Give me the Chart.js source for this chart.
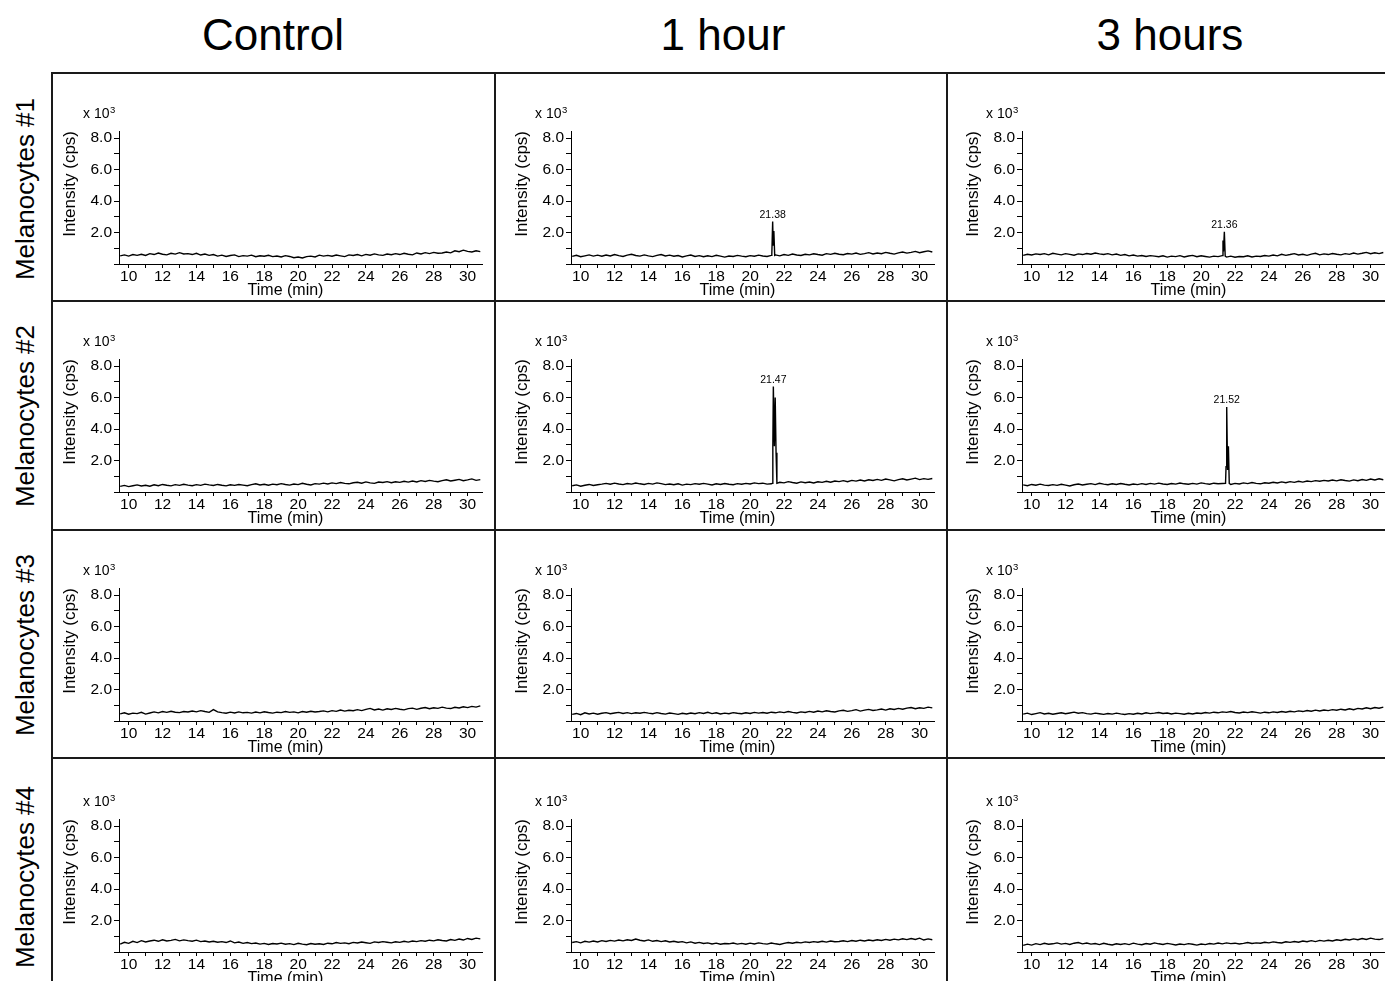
<!DOCTYPE html>
<html>
<head>
<meta charset="utf-8">
<title>Melanocytes chromatograms</title>
<script src="https://cdn.jsdelivr.net/npm/chart.js@4.4.0/dist/chart.umd.min.js"></script>
<style>
  body { margin: 0; background: #fff; overflow: hidden; font-family: 'Liberation Sans', Arial, sans-serif; }
  #page { position: relative; width: 1385px; height: 981px; overflow: hidden; background: #fff; }
  .colTitle { position: absolute; top: 13px; width: 300px; margin-left: -150px; text-align: center; font-size: 44px; line-height: 44px; color: #000; }
  .rowTitle { position: absolute; width: 300px; height: 30px; line-height: 30px; font-size: 26px; text-align: center; color: #000; transform: rotate(-90deg); }
  .line { position: absolute; background: #1a1a1a; }
  canvas { position: absolute; }
</style>
</head>
<body>
<div id="page"></div>
<script>
const columns = ['Control', '1 hour', '3 hours'];
const rowNames = ['Melanocytes #1', 'Melanocytes #2', 'Melanocytes #3', 'Melanocytes #4'];
const xTicks = [10, 12, 14, 16, 18, 20, 22, 24, 26, 28, 30];
const yTicks = [2, 4, 6, 8];

// retention time (min) of each baseline sample
const times = [
  9.5, 9.75, 10, 10.25, 10.5, 10.75, 11, 11.25,
  11.5, 11.75, 12, 12.25, 12.5, 12.75, 13, 13.25,
  13.5, 13.75, 14, 14.25, 14.5, 14.75, 15, 15.25,
  15.5, 15.75, 16, 16.25, 16.5, 16.75, 17, 17.25,
  17.5, 17.75, 18, 18.25, 18.5, 18.75, 19, 19.25,
  19.5, 19.75, 20, 20.25, 20.5, 20.75, 21, 21.25,
  21.5, 21.75, 22, 22.25, 22.5, 22.75, 23, 23.25,
  23.5, 23.75, 24, 24.25, 24.5, 24.75, 25, 25.25,
  25.5, 25.75, 26, 26.25, 26.5, 26.75, 27, 27.25,
  27.5, 27.75, 28, 28.25, 28.5, 28.75, 29, 29.25,
  29.5, 29.75, 30, 30.25, 30.5, 30.75
];

// intensity x 10^3 cps
const control_1 = [
  0.52,0.58,0.50,0.60,0.55,0.62,0.54,0.66, 0.60,0.70,0.62,0.58,0.68,0.63,0.72,0.64,
  0.66,0.60,0.68,0.57,0.63,0.55,0.60,0.50, 0.56,0.48,0.54,0.58,0.47,0.53,0.50,0.56,
  0.46,0.52,0.49,0.55,0.47,0.51,0.45,0.53, 0.48,0.40,0.44,0.38,0.47,0.50,0.45,0.56,
  0.50,0.55,0.49,0.57,0.52,0.47,0.58,0.54, 0.60,0.52,0.61,0.56,0.64,0.58,0.55,0.63,
  0.59,0.66,0.60,0.68,0.62,0.58,0.70,0.64, 0.72,0.66,0.74,0.68,0.70,0.76,0.71,0.84,
  0.78,0.88,0.80,0.76,0.84,0.79
];
const hour1_1 = [
  0.48,0.55,0.46,0.52,0.58,0.50,0.56,0.49, 0.57,0.51,0.60,0.53,0.48,0.56,0.62,0.54,
  0.50,0.58,0.52,0.47,0.55,0.60,0.51,0.56, 0.49,0.54,0.45,0.52,0.57,0.48,0.53,0.46,
  0.52,0.47,0.55,0.50,0.44,0.51,0.48,0.55, 0.50,0.46,0.53,0.49,0.56,0.51,0.48,0.55,
  0.58,0.52,0.60,0.55,0.63,0.57,0.54,0.62, 0.58,0.65,0.60,0.56,0.66,0.61,0.68,0.62,
  0.59,0.67,0.63,0.70,0.61,0.66,0.72,0.64, 0.70,0.65,0.74,0.68,0.63,0.71,0.76,0.69,
  0.74,0.80,0.72,0.78,0.83,0.76
];
const hour3_1 = [
  0.55,0.62,0.57,0.64,0.60,0.66,0.58,0.68, 0.63,0.58,0.66,0.61,0.56,0.64,0.60,0.67,
  0.62,0.70,0.64,0.60,0.66,0.58,0.63,0.55, 0.60,0.52,0.57,0.50,0.54,0.48,0.53,0.50,
  0.46,0.52,0.44,0.50,0.47,0.53,0.45,0.51, 0.55,0.46,0.52,0.48,0.44,0.50,0.47,0.53,
  0.44,0.50,0.43,0.48,0.46,0.52,0.45,0.50, 0.48,0.54,0.50,0.57,0.52,0.62,0.55,0.60,
  0.66,0.57,0.62,0.55,0.63,0.68,0.58,0.64, 0.60,0.67,0.62,0.58,0.66,0.61,0.70,0.63,
  0.68,0.74,0.65,0.71,0.66,0.73
];
const control_2 = [
  0.36,0.42,0.34,0.40,0.45,0.38,0.43,0.37, 0.46,0.40,0.48,0.43,0.39,0.47,0.42,0.49,
  0.44,0.40,0.47,0.42,0.50,0.45,0.41,0.48, 0.43,0.39,0.46,0.42,0.48,0.44,0.40,0.47,
  0.52,0.45,0.49,0.43,0.50,0.46,0.53,0.48, 0.44,0.51,0.47,0.55,0.49,0.45,0.53,0.50,
  0.56,0.51,0.58,0.53,0.60,0.55,0.52,0.59, 0.62,0.56,0.64,0.58,0.55,0.63,0.60,0.66,
  0.59,0.65,0.61,0.68,0.63,0.70,0.64,0.72, 0.67,0.74,0.69,0.65,0.72,0.78,0.70,0.75,
  0.80,0.72,0.77,0.83,0.74,0.79
];
const hour1_2 = [
  0.40,0.45,0.37,0.43,0.48,0.41,0.46,0.50, 0.55,0.49,0.56,0.51,0.47,0.54,0.50,0.57,
  0.52,0.48,0.55,0.50,0.58,0.53,0.47,0.51, 0.46,0.52,0.44,0.50,0.47,0.53,0.49,0.55,
  0.50,0.45,0.52,0.48,0.54,0.49,0.46,0.53, 0.49,0.55,0.51,0.58,0.53,0.56,0.50,0.52,
  0.55,0.62,0.58,0.66,0.60,0.56,0.64,0.59, 0.63,0.57,0.65,0.61,0.68,0.62,0.70,0.66,
  0.72,0.65,0.74,0.69,0.76,0.70,0.78,0.73, 0.80,0.74,0.82,0.77,0.71,0.79,0.84,0.76,
  0.82,0.88,0.79,0.85,0.80,0.86
];
const hour3_2 = [
  0.45,0.40,0.48,0.43,0.50,0.44,0.41,0.47, 0.42,0.49,0.44,0.38,0.46,0.51,0.45,0.49,
  0.53,0.47,0.55,0.50,0.46,0.52,0.48,0.54, 0.49,0.45,0.51,0.47,0.53,0.48,0.55,0.50,
  0.56,0.51,0.48,0.54,0.50,0.57,0.52,0.49, 0.55,0.50,0.58,0.53,0.49,0.56,0.52,0.54,
  0.50,0.48,0.55,0.51,0.58,0.53,0.60,0.55, 0.52,0.59,0.56,0.62,0.57,0.64,0.59,0.66,
  0.61,0.68,0.63,0.70,0.66,0.72,0.68,0.74, 0.70,0.76,0.71,0.78,0.73,0.69,0.77,0.72,
  0.79,0.74,0.82,0.76,0.84,0.78
];
const control_3 = [
  0.45,0.52,0.43,0.50,0.47,0.55,0.44,0.51, 0.58,0.52,0.60,0.55,0.62,0.56,0.53,0.60,
  0.57,0.63,0.58,0.66,0.60,0.55,0.72,0.58, 0.53,0.49,0.56,0.51,0.58,0.52,0.55,0.50,
  0.57,0.52,0.59,0.54,0.50,0.56,0.53,0.60, 0.55,0.58,0.52,0.60,0.56,0.62,0.57,0.60,
  0.64,0.58,0.66,0.61,0.70,0.63,0.68,0.65, 0.72,0.66,0.74,0.80,0.70,0.76,0.69,0.78,
  0.73,0.80,0.75,0.71,0.79,0.82,0.74,0.81, 0.86,0.78,0.84,0.80,0.88,0.82,0.79,0.87,
  0.83,0.90,0.85,0.93,0.88,0.96
];
const hour1_3 = [
  0.42,0.48,0.40,0.52,0.45,0.50,0.43,0.49, 0.53,0.46,0.51,0.55,0.48,0.53,0.47,0.52,
  0.49,0.55,0.50,0.46,0.53,0.48,0.44,0.51, 0.47,0.42,0.49,0.45,0.51,0.46,0.53,0.48,
  0.55,0.47,0.52,0.45,0.50,0.46,0.53,0.49, 0.46,0.52,0.48,0.55,0.50,0.54,0.49,0.56,
  0.52,0.58,0.53,0.60,0.55,0.51,0.58,0.54, 0.61,0.56,0.63,0.58,0.65,0.60,0.57,0.64,
  0.68,0.61,0.66,0.72,0.63,0.69,0.74,0.67, 0.71,0.76,0.69,0.78,0.73,0.80,0.75,0.82,
  0.86,0.78,0.84,0.80,0.88,0.83
];
const hour3_3 = [
  0.44,0.50,0.41,0.47,0.53,0.45,0.49,0.43, 0.48,0.52,0.46,0.51,0.56,0.49,0.53,0.47,
  0.44,0.50,0.46,0.42,0.48,0.44,0.50,0.45, 0.41,0.47,0.43,0.49,0.45,0.52,0.47,0.50,
  0.54,0.48,0.51,0.45,0.50,0.47,0.43,0.49, 0.45,0.51,0.48,0.54,0.50,0.56,0.52,0.58,
  0.55,0.60,0.54,0.51,0.57,0.53,0.59,0.55, 0.50,0.56,0.52,0.58,0.54,0.60,0.56,0.62,
  0.58,0.64,0.60,0.67,0.62,0.69,0.64,0.70, 0.66,0.72,0.68,0.75,0.70,0.78,0.72,0.80,
  0.76,0.84,0.78,0.86,0.81,0.88
];
const control_4 = [
  0.50,0.62,0.55,0.68,0.60,0.72,0.64,0.70, 0.75,0.68,0.78,0.70,0.74,0.80,0.71,0.77,
  0.72,0.68,0.75,0.66,0.70,0.64,0.68,0.62, 0.66,0.60,0.70,0.58,0.63,0.55,0.60,0.53,
  0.57,0.50,0.55,0.48,0.54,0.51,0.56,0.49, 0.53,0.47,0.55,0.50,0.46,0.54,0.49,0.52,
  0.48,0.56,0.52,0.60,0.55,0.58,0.53,0.61, 0.57,0.63,0.59,0.55,0.64,0.60,0.66,0.62,
  0.58,0.65,0.61,0.68,0.63,0.70,0.66,0.72, 0.68,0.75,0.71,0.78,0.73,0.70,0.79,0.74,
  0.82,0.76,0.86,0.80,0.88,0.83
];
const hour1_4 = [
  0.60,0.66,0.58,0.68,0.63,0.70,0.64,0.72, 0.67,0.74,0.69,0.76,0.71,0.78,0.73,0.82,
  0.75,0.70,0.77,0.68,0.73,0.66,0.71,0.64, 0.68,0.62,0.66,0.58,0.64,0.56,0.61,0.54,
  0.58,0.51,0.56,0.49,0.54,0.52,0.57,0.50, 0.55,0.49,0.56,0.51,0.58,0.53,0.50,0.57,
  0.52,0.48,0.55,0.60,0.56,0.62,0.58,0.64, 0.60,0.66,0.62,0.68,0.63,0.70,0.65,0.67,
  0.71,0.66,0.73,0.68,0.75,0.70,0.76,0.72, 0.78,0.73,0.80,0.75,0.82,0.77,0.84,0.79,
  0.86,0.80,0.88,0.76,0.83,0.78
];
const hour3_4 = [
  0.42,0.50,0.44,0.53,0.47,0.55,0.49,0.52, 0.58,0.50,0.55,0.48,0.56,0.60,0.52,0.57,
  0.50,0.54,0.47,0.55,0.49,0.45,0.52,0.48, 0.53,0.47,0.56,0.50,0.46,0.54,0.49,0.58,
  0.52,0.48,0.55,0.50,0.45,0.51,0.47,0.53, 0.49,0.44,0.51,0.47,0.54,0.50,0.57,0.52,
  0.58,0.53,0.56,0.51,0.55,0.60,0.54,0.58, 0.56,0.62,0.58,0.64,0.60,0.57,0.65,0.61,
  0.67,0.62,0.70,0.65,0.72,0.66,0.74,0.69, 0.75,0.70,0.78,0.73,0.81,0.76,0.83,0.78,
  0.86,0.80,0.88,0.82,0.79,0.85
];

// peaks: sample times, intensities and the printed retention time
const peak1h_1_t = [21.28, 21.33, 21.36, 21.40, 21.45];
const peak1h_1_v = [0.60, 2.70, 1.20, 2.10, 0.55];
const peak3h_1_t = [21.29, 21.32, 21.37, 21.42];
const peak3h_1_v = [1.50, 0.80, 2.05, 0.50];
const peak1h_2_t = [21.30, 21.34, 21.37, 21.43, 21.48, 21.53, 21.58];
const peak1h_2_v = [0.55, 2.90, 6.70, 2.90, 6.00, 2.50, 0.55];
const peak3h_2_t = [21.44, 21.47, 21.51, 21.56, 21.61, 21.66];
const peak3h_2_v = [0.55, 1.60, 5.40, 1.40, 2.90, 0.55];
const peakLabels = { '0,1': '21.38', '0,2': '21.36', '1,1': '21.47', '1,2': '21.52' };

const grid = [
  [control_1, hour1_1, hour3_1],
  [control_2, hour1_2, hour3_2],
  [control_3, hour1_3, hour3_3],
  [control_4, hour1_4, hour3_4]
];
const peaks = {
  '0,1': [peak1h_1_t, peak1h_1_v],
  '0,2': [peak3h_1_t, peak3h_1_v],
  '1,1': [peak1h_2_t, peak1h_2_v],
  '1,2': [peak3h_2_t, peak3h_2_v]
};

// layout (page pixels)
const colLefts = [119, 571, 1022];
const rowBottoms = [264, 492, 721, 952];
const plotW = 363, plotH = 133;
const padTop = 40, yAxisW = 68, xAxisH = 40, padRight = 10;
const FONT = "'Liberation Sans', Arial, sans-serif";

Chart.defaults.font.family = FONT;
Chart.defaults.color = '#000';

const page = document.getElementById('page');

function addLine(x, y, w, h) {
  const d = document.createElement('div');
  d.className = 'line';
  d.style.left = x + 'px'; d.style.top = y + 'px';
  d.style.width = w + 'px'; d.style.height = h + 'px';
  page.appendChild(d);
}
addLine(51, 72, 1400, 2);
addLine(51, 72, 2, 1000);
[300, 529, 757].forEach(y => addLine(51, y, 1400, 2));
[494, 946].forEach(x => addLine(x, 72, 2, 1000));

const titleCenters = [273, 723, 1170];
columns.forEach((c, i) => {
  const d = document.createElement('div');
  d.className = 'colTitle';
  d.style.left = titleCenters[i] + 'px';
  d.textContent = c;
  page.appendChild(d);
});
const rowCenters = [189, 416, 645, 877];
rowNames.forEach((r, i) => {
  const d = document.createElement('div');
  d.className = 'rowTitle';
  d.style.left = (25 - 150) + 'px';
  d.style.top = (rowCenters[i] - 15) + 'px';
  d.textContent = r;
  page.appendChild(d);
});

const panelText = {
  id: 'panelText',
  afterDraw(chart, args, opts) {
    const {ctx, chartArea, scales} = chart;
    ctx.save();
    ctx.fillStyle = '#000';
    ctx.textAlign = 'left';
    ctx.textBaseline = 'alphabetic';
    ctx.font = '14px ' + FONT;
    const x0 = chartArea.left - 36, y0 = chartArea.top - 13;
    ctx.fillText('x 10', x0, y0);
    const w = ctx.measureText('x 10').width;
    ctx.font = '9.5px ' + FONT;
    ctx.fillText('3', x0 + w + 0.5, y0 - 5);
    ctx.font = '16px ' + FONT;
    ctx.textAlign = 'center';
    ctx.textBaseline = 'middle';
    ctx.fillText('Time (min)', (chartArea.left + chartArea.right) / 2 - 15, chartArea.bottom + 26.5);
    if (opts.label) {
      let top = null;
      chart.data.datasets[0].data.forEach(p => { if (!top || p.y > top.y) top = p; });
      ctx.font = '10.5px ' + FONT;
      ctx.textBaseline = 'alphabetic';
      ctx.fillText(opts.label, scales.x.getPixelForValue(top.x), scales.y.getPixelForValue(top.y) - 4);
    }
    ctx.restore();
  }
};

function buildPoints(values, peak) {
  const pts = [];
  times.forEach((t, i) => {
    if (peak && t >= peak[0][0] && t <= peak[0][peak[0].length - 1]) return;
    pts.push({x: t, y: values[i]});
  });
  if (peak) peak[0].forEach((t, i) => pts.push({x: t, y: peak[1][i]}));
  pts.sort((a, b) => a.x - b.x);
  return pts;
}

grid.forEach((row, r) => {
  row.forEach((values, c) => {
    const key = r + ',' + c;
    const canvas = document.createElement('canvas');
    canvas.width = yAxisW + plotW + padRight;
    canvas.height = padTop + plotH + xAxisH;
    canvas.style.left = (colLefts[c] - yAxisW) + 'px';
    canvas.style.top = (rowBottoms[r] - plotH - padTop) + 'px';
    page.appendChild(canvas);

    new Chart(canvas.getContext('2d'), {
      type: 'line',
      data: {
        datasets: [{
          data: buildPoints(values, peaks[key]),
          borderColor: '#000',
          borderWidth: 1.4,
          pointRadius: 0,
          tension: 0,
          fill: false
        }]
      },
      options: {
        responsive: false,
        animation: false,
        layout: { padding: { top: padTop, right: padRight, left: 0, bottom: 0 } },
        plugins: {
          legend: { display: false },
          tooltip: { enabled: false },
          panelText: { label: peakLabels[key] || null }
        },
        scales: {
          x: {
            type: 'linear',
            min: 9.43,
            max: 30.85,
            afterFit: s => { s.height = xAxisH; },
            border: { display: true, color: '#000', width: 1 },
            grid: { drawOnChartArea: false, tickLength: 4, tickColor: '#000' },
            ticks: {
              stepSize: 1,
              includeBounds: false,
              autoSkip: false,
              maxRotation: 0,
              padding: 1,
              font: { size: 15.5, lineHeight: 1 },
              callback: v => (xTicks.includes(v) ? String(v) : '')
            }
          },
          y: {
            min: 0,
            max: 8.45,
            afterFit: s => { s.width = yAxisW; },
            border: { display: true, color: '#000', width: 1 },
            grid: { drawOnChartArea: false, tickLength: 5, tickColor: '#000' },
            ticks: {
              stepSize: 1,
              includeBounds: false,
              autoSkip: false,
              padding: 2,
              font: { size: 15.5, lineHeight: 1 },
              callback: v => (yTicks.includes(v) ? v.toFixed(1) : '')
            },
            title: {
              display: true,
              text: 'Intensity (cps)',
              align: 'end',
              font: { size: 17 },
              padding: { top: 9, bottom: 0 }
            }
          }
        }
      },
      plugins: [panelText]
    });
  });
});
</script>
</body>
</html>
